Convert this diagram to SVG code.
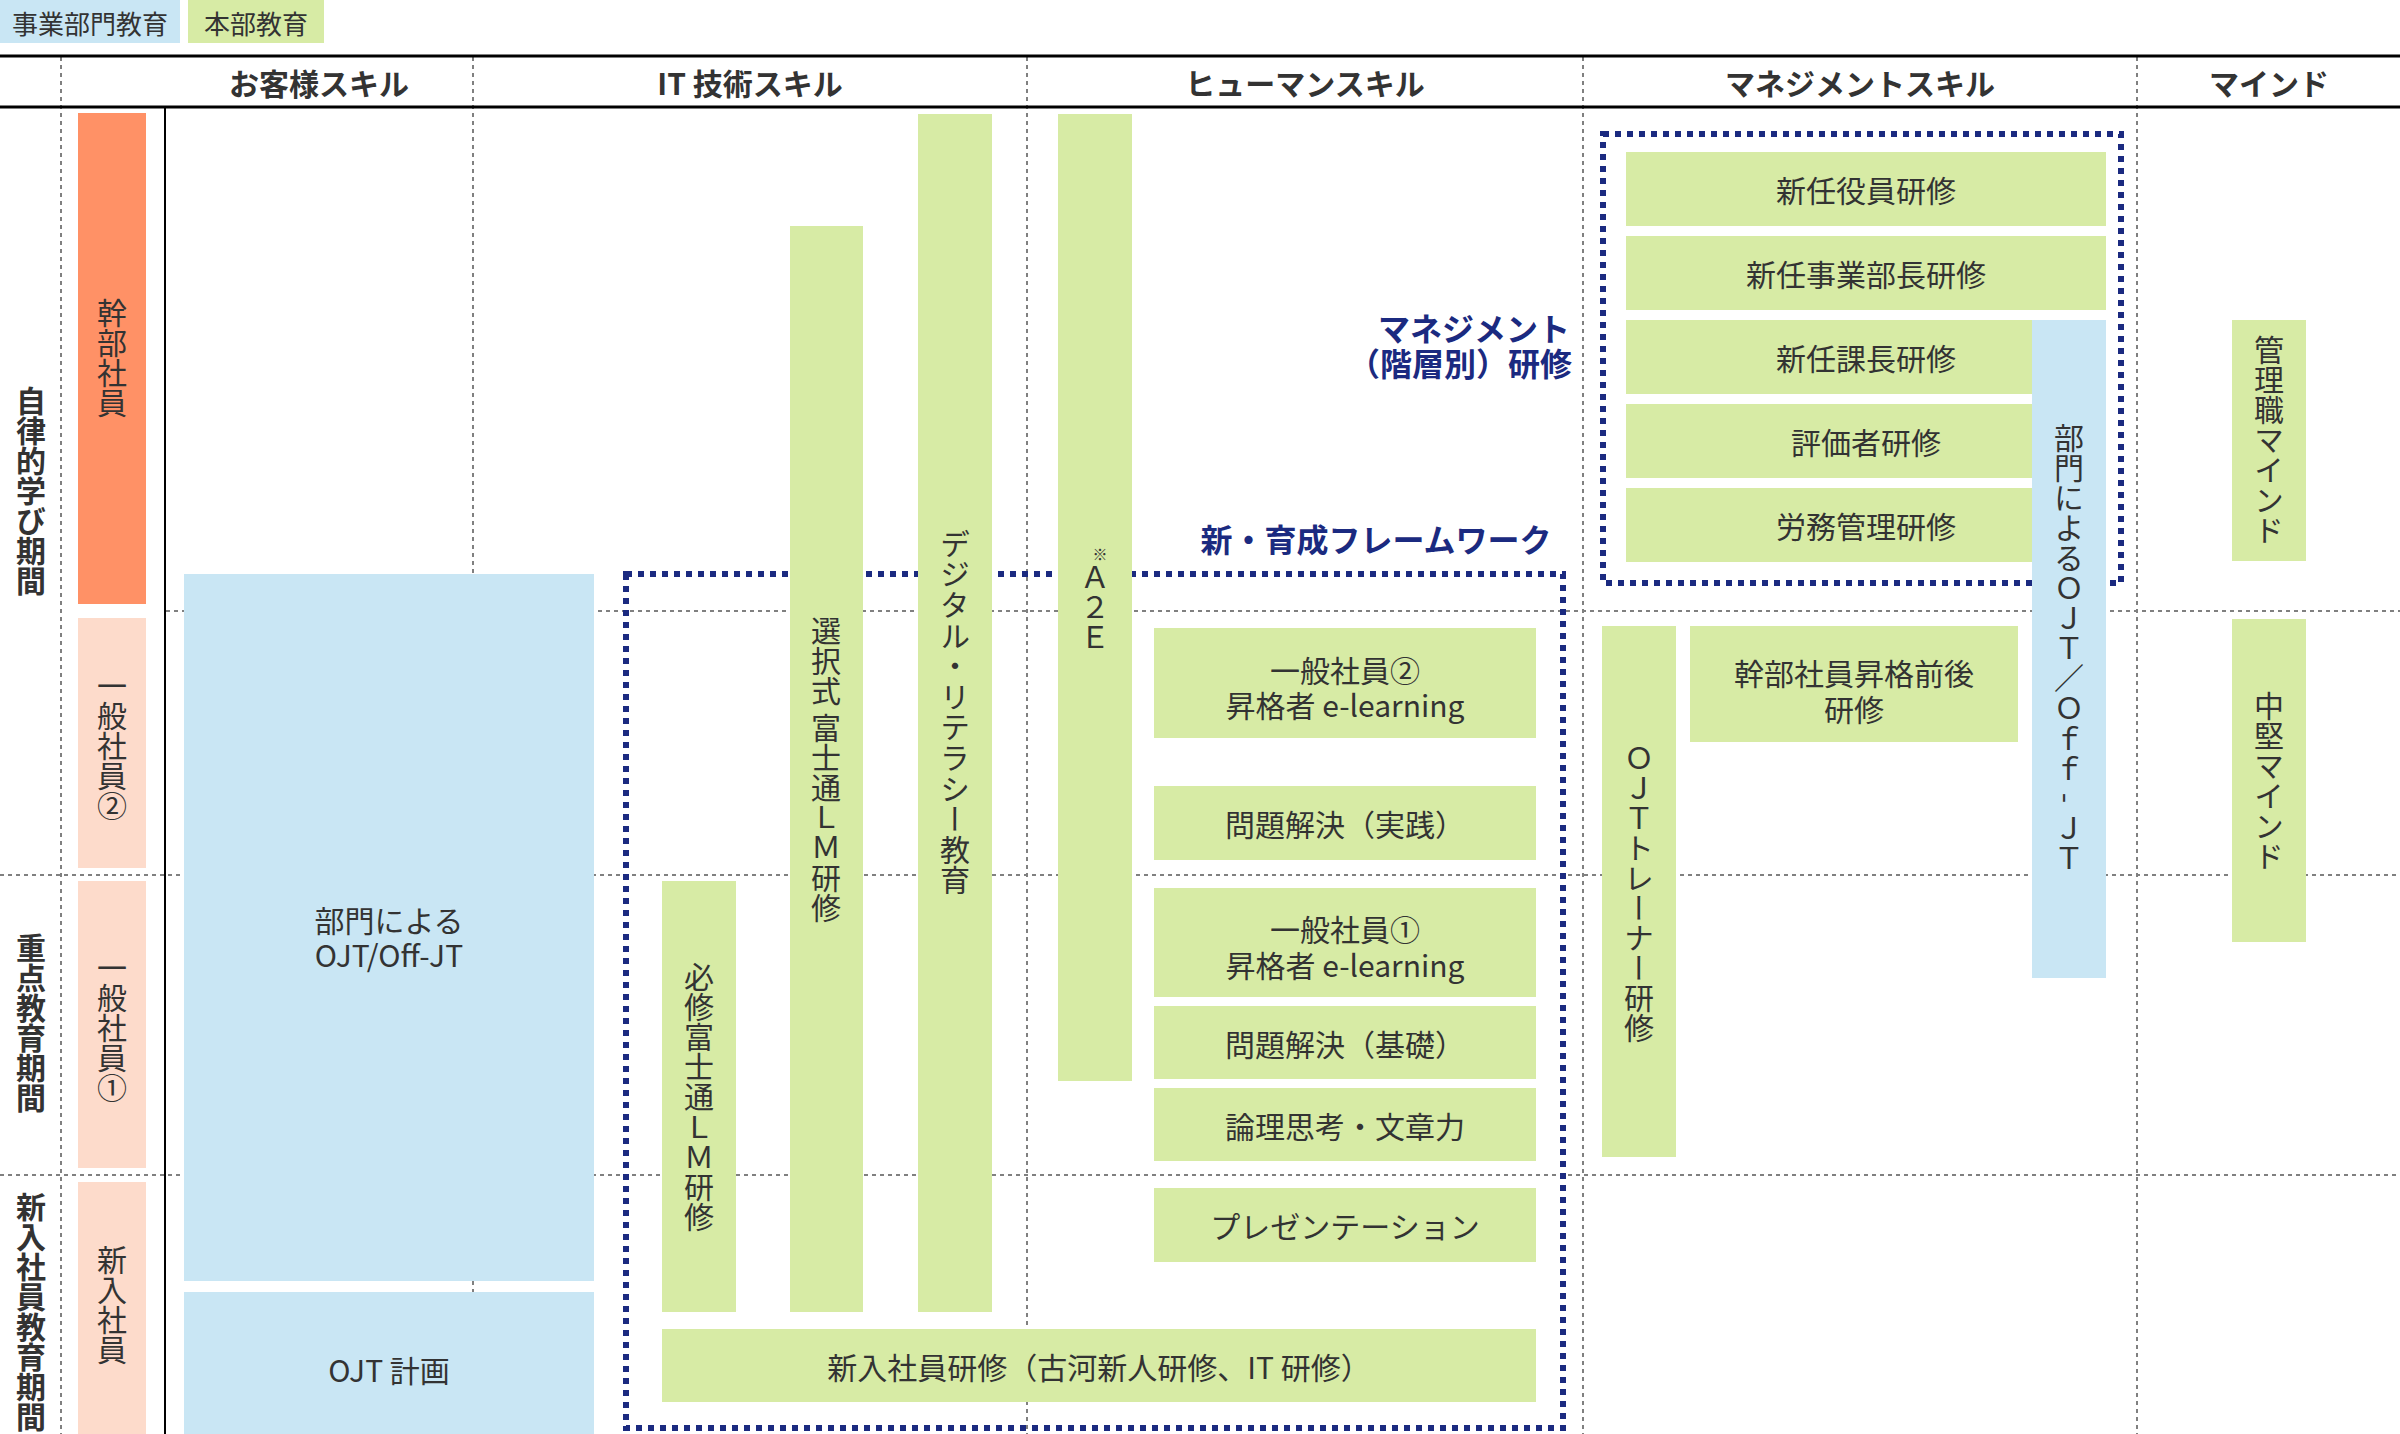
<svg xmlns="http://www.w3.org/2000/svg" width="2400" height="1434" viewBox="0 0 2400 1434">
<style>
.t{font-family:"Noto Sans CJK JP","Noto Sans",sans-serif;fill:#333333;}
.b{font-size:30px;}
.lg{font-size:26px;}
.h{font-size:30px;font-weight:700;}
.s{font-size:30px;font-weight:700;}
.v{writing-mode:vertical-rl;}
.nv{font-family:"Noto Sans CJK JP","Noto Sans",sans-serif;fill:#1B2A80;font-weight:700;font-size:32px;}
.blue{fill:#C9E6F4;}
.green{fill:#D7EBA5;}
.orange{fill:#FF9166;}
.peach{fill:#FDDBCB;}
.dash{stroke:#808080;stroke-width:2;stroke-dasharray:4 4;fill:none;}
.solid{stroke:#000;fill:none;}
.frame{stroke:#1B2A80;stroke-width:6;stroke-dasharray:6 6;fill:none;}
</style>
<rect width="2400" height="1434" fill="#fff"/>

<g id="legend">
<rect class="blue" x="0" y="0" width="180" height="43"/>
<text class="t lg" x="90" y="22" text-anchor="middle" dominant-baseline="central">事業部門教育</text>
<rect class="green" x="188" y="0" width="136" height="43"/>
<text class="t lg" x="256" y="22" text-anchor="middle" dominant-baseline="central">本部教育</text>
</g>

<g id="grid">
<line class="dash" x1="61" y1="57" x2="61" y2="1434"/>
<line class="dash" x1="473" y1="57" x2="473" y2="1434"/>
<line class="dash" x1="1027" y1="57" x2="1027" y2="1434"/>
<line class="dash" x1="1583" y1="57" x2="1583" y2="1434"/>
<line class="dash" x1="2137" y1="57" x2="2137" y2="1434"/>
<line class="dash" x1="166" y1="611" x2="2400" y2="611"/>
<line class="dash" x1="0" y1="875" x2="2400" y2="875"/>
<line class="dash" x1="0" y1="1175" x2="2400" y2="1175"/>
<line class="solid" x1="0" y1="56" x2="2400" y2="56" stroke-width="3"/>
<line class="solid" x1="0" y1="107" x2="2400" y2="107" stroke-width="3"/>
<line class="solid" x1="165" y1="108" x2="165" y2="1434" stroke-width="2"/>
</g>

<g id="headers">
<text class="t h" x="319" y="82" text-anchor="middle" dominant-baseline="central">お客様スキル</text>
<text class="t h" x="750" y="82" text-anchor="middle" dominant-baseline="central">IT 技術スキル</text>
<text class="t h" x="1305" y="82" text-anchor="middle" dominant-baseline="central">ヒューマンスキル</text>
<text class="t h" x="1860" y="82" text-anchor="middle" dominant-baseline="central">マネジメントスキル</text>
<text class="t h" x="2269" y="82" text-anchor="middle" dominant-baseline="central">マインド</text>
</g>

<g id="periods">
<text class="t s v" x="31" y="491" text-anchor="middle">自律的学び期間</text>
<text class="t s v" x="31" y="1023" text-anchor="middle">重点教育期間</text>
<text class="t s v" x="31" y="1312" text-anchor="middle">新入社員教育期間</text>
</g>

<g id="frames">
<rect class="frame" x="626" y="574" width="937" height="854"/>
<rect class="frame" x="1603" y="134" width="518" height="449"/>
</g>

<g id="labels">
<text class="nv" x="1570" y="327" text-anchor="end" dominant-baseline="central">マネジメント</text>
<text class="nv" x="1572" y="362" text-anchor="end" dominant-baseline="central">（階層別）研修</text>
<text class="nv" x="1376" y="538" text-anchor="middle" dominant-baseline="central">新・育成フレームワーク</text>
</g>

<g id="rank-kanbu">
<rect class="orange" x="78" y="113" width="68" height="491"/>
<text class="t b v" x="112" y="358" text-anchor="middle">幹部社員</text>
</g>
<g id="rank-ippan2">
<rect class="peach" x="78" y="618" width="68" height="250"/>
<text class="t b v" x="112" y="746" text-anchor="middle">一般社員②</text>
</g>
<g id="rank-ippan1">
<rect class="peach" x="78" y="881" width="68" height="287"/>
<text class="t b v" x="112" y="1028" text-anchor="middle">一般社員①</text>
</g>
<g id="rank-shinnyu">
<rect class="peach" x="78" y="1182" width="68" height="252"/>
<text class="t b v" x="112" y="1305" text-anchor="middle">新入社員</text>
</g>

<g id="dept-ojt">
<rect class="blue" x="184" y="574" width="410" height="707"/>
<text class="t b" x="389" y="919" text-anchor="middle" dominant-baseline="central">部門による</text>
<text class="t b" x="389" y="954" text-anchor="middle" dominant-baseline="central">OJT/Off-JT</text>
</g>
<g id="ojt-plan">
<rect class="blue" x="184" y="1292" width="410" height="142"/>
<text class="t b" x="389" y="1369" text-anchor="middle" dominant-baseline="central">OJT 計画</text>
</g>

<g id="hisshu">
<rect class="green" x="662" y="881" width="74" height="431"/>
<text class="t b v" x="699" y="1097" text-anchor="middle">必修富士通ＬＭ研修</text>
</g>
<g id="sentaku">
<rect class="green" x="790" y="226" width="73" height="1086"/>
<text class="t b v" x="826" y="769" text-anchor="middle">選択式 富士通ＬＭ研修</text>
</g>
<g id="digital">
<rect class="green" x="918" y="114" width="74" height="1198"/>
<text class="t b v" x="955" y="712" text-anchor="middle" letter-spacing="0.6">デジタル・リテラシー教育</text>
</g>
<g id="a2e">
<rect class="green" x="1058" y="114" width="74" height="967"/>
<text class="t" x="1100" y="553" font-size="15" text-anchor="middle" dominant-baseline="central">※</text>
<text class="t b v" x="1095" y="607" text-anchor="middle">Ａ２Ｅ</text>
</g>
<g id="shinnyu-kenshu">
<rect class="green" x="662" y="1329" width="874" height="73"/>
<text class="t b" x="1099" y="1366" text-anchor="middle" dominant-baseline="central">新入社員研修（古河新人研修、IT 研修）</text>
</g>
<g id="elearn2">
<rect class="green" x="1154" y="628" width="382" height="110"/>
<text class="t b" x="1345" y="669" text-anchor="middle" dominant-baseline="central">一般社員②</text>
<text class="t b" x="1345" y="704" text-anchor="middle" dominant-baseline="central">昇格者 e-learning</text>
</g>
<g id="mondai-jissen">
<rect class="green" x="1154" y="786" width="382" height="74"/>
<text class="t b" x="1345" y="823" text-anchor="middle" dominant-baseline="central">問題解決（実践）</text>
</g>
<g id="elearn1">
<rect class="green" x="1154" y="888" width="382" height="109"/>
<text class="t b" x="1345" y="928" text-anchor="middle" dominant-baseline="central">一般社員①</text>
<text class="t b" x="1345" y="964" text-anchor="middle" dominant-baseline="central">昇格者 e-learning</text>
</g>
<g id="mondai-kiso">
<rect class="green" x="1154" y="1006" width="382" height="73"/>
<text class="t b" x="1345" y="1043" text-anchor="middle" dominant-baseline="central">問題解決（基礎）</text>
</g>
<g id="ronri">
<rect class="green" x="1154" y="1088" width="382" height="73"/>
<text class="t b" x="1345" y="1125" text-anchor="middle" dominant-baseline="central">論理思考・文章力</text>
</g>
<g id="presen">
<rect class="green" x="1154" y="1188" width="382" height="74"/>
<text class="t b" x="1345" y="1225" text-anchor="middle" dominant-baseline="central">プレゼンテーション</text>
</g>

<g id="shinnin-yakuin">
<rect class="green" x="1626" y="152" width="480" height="74"/>
<text class="t b" x="1866" y="189" text-anchor="middle" dominant-baseline="central">新任役員研修</text>
</g>
<g id="shinnin-jigyobucho">
<rect class="green" x="1626" y="236" width="480" height="74"/>
<text class="t b" x="1866" y="273" text-anchor="middle" dominant-baseline="central">新任事業部長研修</text>
</g>
<g id="shinnin-kacho">
<rect class="green" x="1626" y="320" width="406" height="74"/>
<text class="t b" x="1866" y="357" text-anchor="middle" dominant-baseline="central">新任課長研修</text>
</g>
<g id="hyokasha">
<rect class="green" x="1626" y="404" width="406" height="74"/>
<text class="t b" x="1866" y="441" text-anchor="middle" dominant-baseline="central">評価者研修</text>
</g>
<g id="romu">
<rect class="green" x="1626" y="488" width="406" height="74"/>
<text class="t b" x="1866" y="525" text-anchor="middle" dominant-baseline="central">労務管理研修</text>
</g>
<g id="dept-ojt-mgmt">
<rect class="blue" x="2032" y="320" width="74" height="658"/>
<text class="t b v" x="2069" y="648" text-anchor="middle">部門によるＯＪＴ／Ｏｆ<tspan letter-spacing="10">ｆ-</tspan>ＪＴ</text>
</g>
<g id="ojt-trainer">
<rect class="green" x="1602" y="626" width="74" height="531"/>
<text class="t b v" x="1639" y="893" text-anchor="middle">ＯＪＴトレーナー研修</text>
</g>
<g id="kanbu-shokaku">
<rect class="green" x="1690" y="626" width="328" height="116"/>
<text class="t b" x="1854" y="672" text-anchor="middle" dominant-baseline="central">幹部社員昇格前後</text>
<text class="t b" x="1854" y="708" text-anchor="middle" dominant-baseline="central">研修</text>
</g>
<g id="kanrishoku-mind">
<rect class="green" x="2232" y="320" width="74" height="241"/>
<text class="t b v" x="2269" y="440" text-anchor="middle">管理職マインド</text>
</g>
<g id="chuken-mind">
<rect class="green" x="2232" y="619" width="74" height="323"/>
<text class="t b v" x="2269" y="781" text-anchor="middle">中堅マインド</text>
</g>
</svg>
